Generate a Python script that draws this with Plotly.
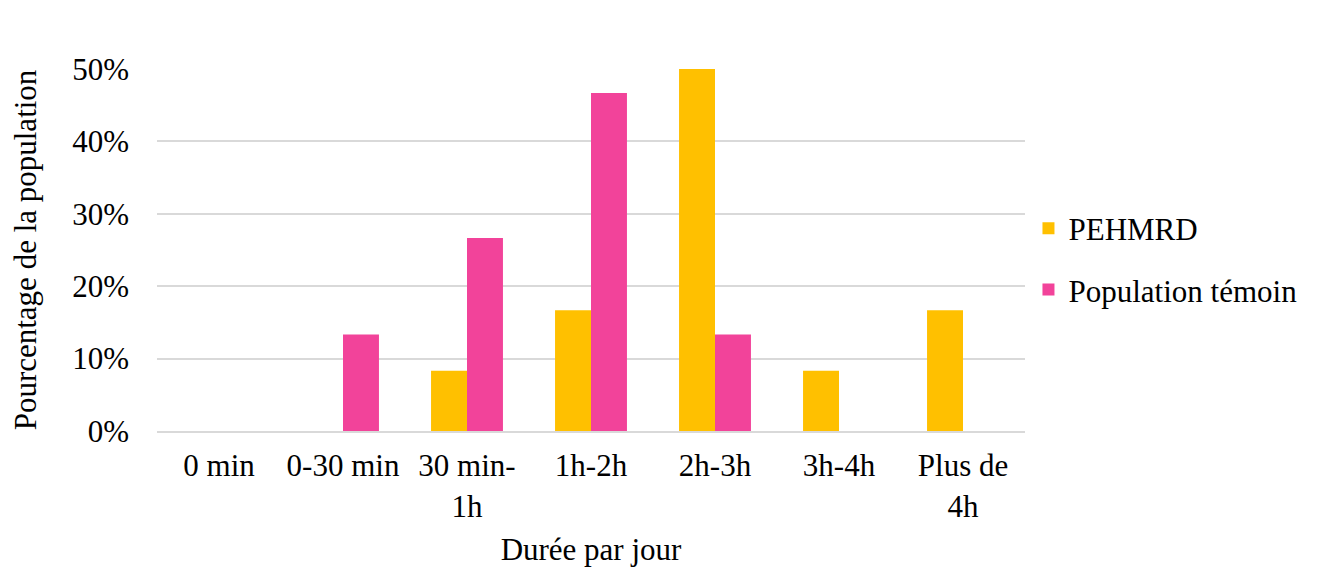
import plotly.graph_objects as go

categories = ["0 min", "0-30 min", "30 min-<br>1h", "1h-2h", "2h-3h", "3h-4h", "Plus de<br>4h"]
pehmrd = [0, 0, 0.0833, 0.1667, 0.50, 0.0833, 0.1667]
temoin = [0, 0.1333, 0.2667, 0.4667, 0.1333, 0, 0]

font = "Liberation Serif, Times New Roman, serif"

fig = go.Figure()
fig.add_trace(go.Bar(x=categories, y=pehmrd, name="PEHMRD", marker_color="#FFC000",
                     marker_line_width=0, legendgroup="a"))
fig.add_trace(go.Bar(x=categories, y=temoin, name="Population témoin", marker_color="#F2439A",
                     marker_line_width=0, legendgroup="b"))

# the page puts an 8px body margin around the figure, so margins are offset
fig.update_layout(
    width=1322, height=568,
    margin=dict(l=149, r=305, t=61, b=145),
    paper_bgcolor="white", plot_bgcolor="white",
    barmode="group", bargap=0.42, bargroupgap=0,
    font=dict(family=font, size=31, color="black"),
    legend=dict(x=1.004, y=0.475, yanchor="middle", xanchor="left",
                font=dict(size=31), itemwidth=30, tracegroupgap=18),
)
fig.update_xaxes(title_text="Durée par jour", title_font_size=31, title_standoff=16,
                 showline=True, linecolor="#D9D9D9", linewidth=2, ticks="",
                 ticklabelstandoff=6)
fig.update_yaxes(title_text="Pourcentage de la population", title_font_size=31,
                 range=[0, 0.5], dtick=0.1, tickformat=".0%",
                 gridcolor="#D9D9D9", gridwidth=2, zeroline=False, ticks="",
                 ticklabelstandoff=27, title_standoff=30)

fig.write_html("out.html")
